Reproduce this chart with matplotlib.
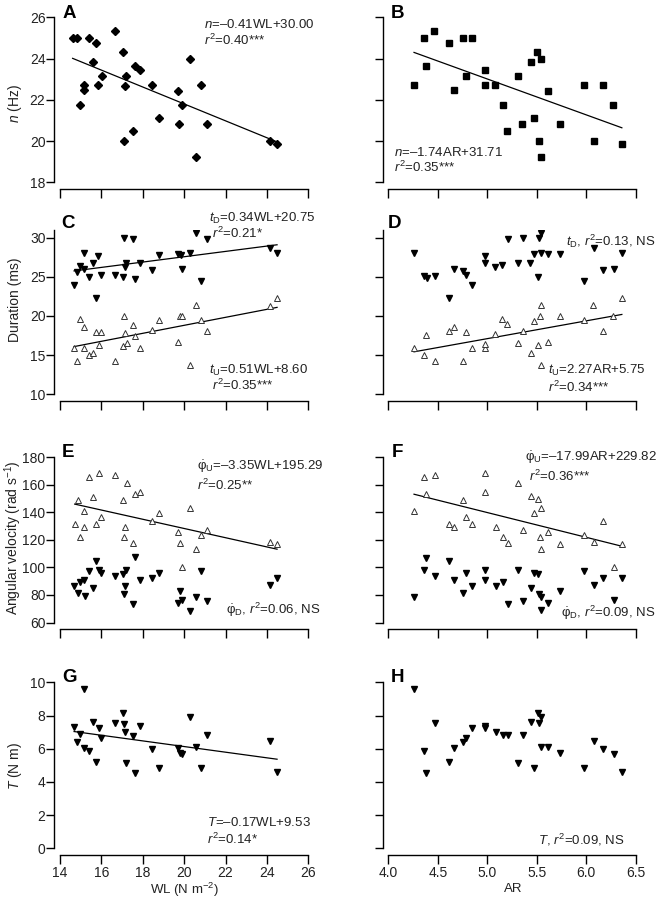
import matplotlib
matplotlib.use("Agg")
import matplotlib.pyplot as plt
import numpy as np

plt.rcParams['font.family'] = ['Liberation Sans', 'DejaVu Sans']
plt.rcParams['mathtext.fontset'] = 'custom'
plt.rcParams['mathtext.rm'] = 'Liberation Sans'
plt.rcParams['mathtext.it'] = 'Liberation Sans:italic'
plt.rcParams['mathtext.bf'] = 'Liberation Sans:bold'

# ---------------- data ----------------
# Panel A: WL vs n
wl_a = [14.61, 14.84, 15.42, 15.72, 16.66, 17.04, 15.58, 17.61, 17.87, 16.01, 17.19, 15.18, 15.85, 17.13,
        18.43, 15.14, 14.97, 19.69, 19.88, 20.30, 20.80, 18.77, 19.77, 21.09, 17.09, 17.51, 20.59, 24.16, 24.49]
n_a = [25.01, 25.0, 25.0, 24.74, 25.34, 24.30, 23.82, 23.66, 23.44, 23.15, 23.16, 22.72, 22.72, 22.69,
       22.72, 22.46, 21.73, 22.45, 21.73, 23.96, 22.72, 21.12, 20.81, 20.81, 20.0, 20.49, 19.24, 20.0, 19.84]

# Panel B: AR vs n
ar_b = [4.26, 4.36, 4.38, 4.46, 4.61, 4.66, 4.75, 4.79, 4.85, 4.98, 4.98, 5.08, 5.16, 5.20, 5.31, 5.35,
        5.44, 5.47, 5.50, 5.54, 5.52, 5.54, 5.61, 5.73, 5.98, 6.08, 6.17, 6.27, 6.36]
n_b = [22.74, 25.01, 23.66, 25.34, 24.76, 22.48, 25.01, 23.16, 25.01, 23.45, 22.74, 22.70, 21.73, 20.51,
       23.16, 20.83, 23.82, 21.12, 24.32, 23.96, 20.0, 19.24, 22.44, 20.83, 22.74, 20.0, 22.74, 21.73, 19.84]

# Panel C: WL vs downstroke (tD) and upstroke (tU) duration
wl_c_d = [14.68, 14.84, 14.97, 15.18, 15.18, 15.42, 15.59, 15.72, 15.85, 16.00, 16.67, 17.08, 17.04, 17.16,
          17.20, 17.54, 17.61, 17.87, 18.43, 18.77, 19.69, 19.85, 19.88, 20.30, 20.59, 20.80, 21.10, 24.16, 24.49]
td_c = [23.96, 25.66, 26.38, 26.0, 28.09, 25.02, 26.72, 22.34, 27.66, 25.19, 25.19, 29.91, 24.94, 26.30,
        26.72, 29.87, 24.68, 26.72, 25.87, 27.83, 27.90, 27.75, 25.96, 28.0, 30.55, 24.51, 29.87, 28.68, 28.09]
wl_c_u = [14.68, 14.84, 14.95, 15.14, 15.18, 15.39, 15.59, 15.72, 15.87, 16.00, 16.67, 17.09, 17.13, 17.04,
          17.22, 17.53, 17.61, 17.88, 18.43, 18.77, 19.69, 19.78, 19.88, 20.30, 20.59, 20.80, 21.10, 24.16, 24.49]
tu_c = [15.96, 14.26, 19.57, 18.64, 15.96, 14.98, 15.23, 18.0, 16.30, 18.0, 14.26, 20.0, 17.79, 16.21,
        16.51, 18.85, 17.49, 15.96, 18.21, 19.49, 16.68, 20.04, 20.0, 13.70, 21.36, 19.49, 18.09, 21.28, 22.30]

# Panel D: AR vs tD and tU
ar_d_d = [4.26, 4.36, 4.39, 4.47, 4.61, 4.66, 4.75, 4.79, 4.85, 4.98, 4.98, 5.08, 5.15, 5.21, 5.31, 5.36,
          5.43, 5.47, 5.51, 5.52, 5.54, 5.54, 5.61, 5.73, 5.98, 6.08, 6.17, 6.28, 6.36]
td_d = [28.09, 25.11, 24.81, 25.15, 22.34, 25.96, 25.74, 25.23, 23.96, 27.66, 26.72, 26.30, 26.47, 29.87,
        26.72, 29.91, 26.72, 27.87, 24.94, 30.0, 30.64, 28.0, 27.87, 27.87, 24.47, 28.64, 25.87, 26.0, 28.09]
ar_d_u = [4.26, 4.36, 4.38, 4.47, 4.61, 4.66, 4.75, 4.79, 4.85, 4.98, 4.98, 5.08, 5.15, 5.20, 5.31, 5.36,
          5.44, 5.47, 5.51, 5.53, 5.54, 5.54, 5.61, 5.74, 5.98, 6.07, 6.17, 6.27, 6.36]
tu_d = [15.87, 14.98, 17.53, 14.30, 18.04, 18.64, 14.30, 18.0, 15.96, 15.96, 16.43, 17.70, 19.57, 18.94,
        16.51, 18.09, 15.23, 19.40, 16.26, 20.04, 21.40, 13.70, 16.68, 20.04, 19.49, 21.40, 18.13, 20.04, 22.30]

# Panel E: WL vs angular velocity (upstroke open, downstroke filled)
wl_e_u = [14.71, 14.85, 14.97, 15.16, 15.18, 15.42, 15.59, 15.72, 15.87, 16.00, 16.67, 17.06, 17.14, 17.11,
          17.22, 17.53, 17.61, 17.87, 18.43, 18.78, 19.69, 19.78, 19.88, 20.30, 20.59, 20.80, 21.10, 24.16, 24.49]
wu_e = [131.9, 148.9, 122.2, 129.5, 141.2, 165.9, 151.4, 131.9, 168.8, 136.8, 166.9, 148.9, 129.3, 122.0,
        161.6, 117.4, 153.3, 155.0, 133.6, 139.5, 125.4, 117.4, 100.4, 143.4, 113.5, 123.7, 127.1, 118.6, 117.1]
wl_e_d = [14.69, 14.87, 14.98, 15.18, 15.19, 15.42, 15.59, 15.72, 15.87, 16.00, 16.67, 17.04, 17.14, 17.11,
          17.20, 17.54, 17.62, 17.87, 18.43, 18.77, 19.69, 19.78, 19.88, 20.30, 20.59, 20.80, 21.10, 24.16, 24.49]
wd_e = [86.8, 81.7, 89.5, 91.2, 79.0, 97.7, 85.0, 105.0, 98.4, 96.0, 93.6, 95.5, 86.6, 80.5,
        98.0, 73.5, 107.4, 90.7, 92.6, 96.0, 74.2, 83.2, 76.7, 68.0, 78.5, 97.5, 75.7, 87.5, 92.1]

# Panel F: AR vs angular velocity
ar_f_u = [4.26, 4.36, 4.38, 4.47, 4.61, 4.66, 4.75, 4.79, 4.85, 4.98, 4.98, 5.09, 5.16, 5.21, 5.31, 5.36,
          5.44, 5.47, 5.51, 5.53, 5.54, 5.54, 5.61, 5.74, 5.98, 6.08, 6.17, 6.28, 6.36]
wu_f = [141.2, 165.9, 153.3, 167.1, 131.9, 129.5, 148.9, 136.8, 131.9, 168.8, 155.0, 129.3, 122.2, 117.4,
        161.6, 127.1, 151.6, 139.8, 149.4, 122.2, 143.4, 113.5, 125.6, 116.9, 123.9, 118.3, 133.6, 100.4, 117.1]
ar_f_d = [4.26, 4.38, 4.36, 4.47, 4.61, 4.66, 4.75, 4.79, 4.85, 4.98, 4.98, 5.09, 5.16, 5.21, 5.31, 5.36,
          5.44, 5.47, 5.51, 5.52, 5.54, 5.54, 5.61, 5.74, 5.98, 6.08, 6.17, 6.28, 6.36]
wd_f = [78.5, 107.2, 98.0, 93.8, 105.0, 91.2, 81.5, 96.0, 86.6, 98.4, 90.7, 86.6, 89.5, 73.5,
        98.4, 75.7, 85.0, 96.0, 95.5, 81.0, 78.5, 69.3, 74.2, 83.2, 97.5, 87.5, 92.6, 76.7, 92.1]

# Panel G: WL vs T
wl_g = [14.68, 14.84, 14.97, 15.18, 15.18, 15.42, 15.59, 15.72, 15.87, 16.00, 16.67, 17.06, 17.11, 17.14,
        17.20, 17.53, 17.61, 17.87, 18.43, 18.77, 19.69, 19.78, 19.88, 20.30, 20.59, 20.80, 21.10, 24.16, 24.49]
t_g = [7.29, 6.43, 6.87, 9.62, 6.06, 5.86, 7.59, 5.20, 7.27, 6.67, 7.53, 8.13, 7.47, 6.99,
       5.12, 6.79, 4.52, 7.39, 5.98, 4.82, 6.06, 5.72, 5.66, 7.93, 6.08, 4.82, 6.81, 6.49, 4.60]

# Panel H: AR vs T
ar_h = [4.26, 4.36, 4.38, 4.47, 4.61, 4.66, 4.75, 4.79, 4.85, 4.98, 4.98, 5.09, 5.16, 5.21, 5.31, 5.36,
        5.44, 5.47, 5.51, 5.52, 5.54, 5.54, 5.61, 5.74, 5.98, 6.08, 6.17, 6.28, 6.36]
t_h = [9.62, 5.86, 4.52, 7.53, 5.20, 6.02, 6.43, 6.67, 7.27, 7.39, 7.27, 6.99, 6.83, 6.81, 5.12, 6.81,
       7.59, 4.82, 8.13, 7.53, 7.93, 6.08, 6.08, 5.72, 4.82, 6.49, 5.98, 5.66, 4.60]

# regression coefficients (slope, intercept) from the figure
fit_a = (-0.41, 30.00)
fit_b = (-1.74, 31.71)
fit_c_d = (0.34, 20.75)
fit_c_u = (0.51, 8.60)
fit_d_u = (2.27, 5.75)
fit_e_u = (-3.35, 195.29)
fit_f_u = (-17.99, 229.82)
fit_g = (-0.17, 9.53)

wl_ticks = [14, 16, 18, 20, 22, 24, 26]
ar_ticks = [4.0, 4.5, 5.0, 5.5, 6.0, 6.5]
ar_ticklabels = ['4.0', '4.5', '5.0', '5.5', '6.0', '6.5']

# ---------------- figure ----------------
W, H = 663, 900
fig = plt.figure(figsize=(W / 100, H / 100), dpi=100)
TXT = '#222222'
TICKFS = 10
ANNFS = 9.5
LABFS = 10

def px_axes(x0, x1, ytop, ybot):
    return fig.add_axes([x0 / W, 1 - ybot / H, (x1 - x0) / W, (ybot - ytop) / H])

LX = (60, 308.3)
RX = (388.3, 635.7)
rows = [(17.3, 182.3), (229.7, 394.3), (457.3, 622.5), (682.3, 848.3)]

def style(ax, xlim, xticks, ylim, yticks, left_labels, bottom_labels, xtl=None):
    ax.set_xlim(*xlim)
    ax.set_ylim(*ylim)
    for s in ['top', 'right']:
        ax.spines[s].set_visible(False)
    ax.spines['left'].set_position(('outward', 4))
    ax.spines['bottom'].set_position(('outward', 4.5))
    ax.spines['left'].set_linewidth(1.0)
    ax.spines['bottom'].set_linewidth(1.0)
    ax.set_xticks(xticks)
    ax.set_yticks(yticks)
    ax.tick_params(axis='x', direction='out', length=6.8, width=1.0, labelsize=TICKFS, labelcolor=TXT, pad=1.2)
    ax.tick_params(axis='y', direction='out', length=5.5, width=1.0, labelsize=TICKFS, labelcolor=TXT, pad=1.0)
    if xtl is not None and bottom_labels:
        ax.set_xticklabels(xtl)
    if not bottom_labels:
        ax.tick_params(axis='x', labelbottom=False)
    if not left_labels:
        ax.tick_params(axis='y', labelleft=False)
    ax.patch.set_visible(False)

def fitline(ax, x, coef):
    xs = np.array([min(x), max(x)])
    ax.plot(xs, coef[0] * xs + coef[1], color='black', lw=0.9, zorder=1)

def ftext(x, y, s, ha='left', **kw):
    fig.text(x / W, 1 - y / H, s, ha=ha, va='center', fontsize=ANNFS, color=TXT, **kw)

def letter(x, y, s):
    fig.text(x / W, 1 - y / H, s, ha='left', va='center', fontsize=13.5, fontweight='bold', color='black')

def ylab(x, y, s):
    fig.text(x / W, 1 - y / H, s, ha='center', va='center', rotation=90, fontsize=LABFS, color=TXT)

def xlab(x, y, s):
    fig.text(x / W, 1 - y / H, s, ha='center', va='center', fontsize=9.5, color=TXT)

filled_v = dict(marker='v', ms=4.8, color='black', ls='none', zorder=3)
open_up = dict(marker='^', ms=4.9, mfc='white', mec='#333333', mew=0.7, ls='none', zorder=3)

# A
axA = px_axes(LX[0], LX[1], *rows[0])
axA.plot(wl_a, n_a, marker='D', ms=4.5, color='black', ls='none', zorder=3)
fitline(axA, wl_a, fit_a)
style(axA, (14, 26), wl_ticks, (18, 26), [18, 20, 22, 24, 26], True, False)

# B
axB = px_axes(RX[0], RX[1], *rows[0])
axB.plot(ar_b, n_b, marker='s', ms=4.2, color='black', ls='none', zorder=3)
fitline(axB, ar_b, fit_b)
style(axB, (4.0, 6.5), ar_ticks, (18, 26), [18, 20, 22, 24, 26], False, False)

# C
axC = px_axes(LX[0], LX[1], *rows[1])
axC.plot(wl_c_d, td_c, **filled_v)
axC.plot(wl_c_u, tu_c, **open_up)
fitline(axC, wl_c_d, fit_c_d)
fitline(axC, wl_c_u, fit_c_u)
style(axC, (14, 26), wl_ticks, (10, 31), [10, 15, 20, 25, 30], True, False)

# D
axD = px_axes(RX[0], RX[1], *rows[1])
axD.plot(ar_d_d, td_d, **filled_v)
axD.plot(ar_d_u, tu_d, **open_up)
fitline(axD, ar_d_u, fit_d_u)
style(axD, (4.0, 6.5), ar_ticks, (10, 31), [10, 15, 20, 25, 30], False, False)

# E
axE = px_axes(LX[0], LX[1], *rows[2])
axE.plot(wl_e_d, wd_e, **filled_v)
axE.plot(wl_e_u, wu_e, **open_up)
fitline(axE, wl_e_u, fit_e_u)
style(axE, (14, 26), wl_ticks, (60, 180), [60, 80, 100, 120, 140, 160, 180], True, False)

# F
axF = px_axes(RX[0], RX[1], *rows[2])
axF.plot(ar_f_d, wd_f, **filled_v)
axF.plot(ar_f_u, wu_f, **open_up)
fitline(axF, ar_f_u, fit_f_u)
style(axF, (4.0, 6.5), ar_ticks, (60, 180), [60, 80, 100, 120, 140, 160, 180], False, False)

# G
axG = px_axes(LX[0], LX[1], *rows[3])
axG.plot(wl_g, t_g, **filled_v)
fitline(axG, wl_g, fit_g)
style(axG, (14, 26), wl_ticks, (0, 10), [0, 2, 4, 6, 8, 10], True, True)

# H
axH = px_axes(RX[0], RX[1], *rows[3])
axH.plot(ar_h, t_h, **filled_v)
style(axH, (4.0, 6.5), ar_ticks, (0, 10), [0, 2, 4, 6, 8, 10], False, True, xtl=ar_ticklabels)

# axis labels
ylab(15, 104, r'$n$ (Hz)')
ylab(15, 300, 'Duration (ms)')
ylab(13, 538, r'Angular velocity (rad s$^{-1}$)')
ylab(15, 766, r'$T$ (N m)')
xlab(184, 890, r'WL (N m$^{-2}$)')
xlab(513, 889, 'AR')

# panel letters
letter(63, 13, 'A')
letter(391, 13, 'B')
letter(61, 223, 'C')
letter(388, 223, 'D')
letter(62, 453, 'E')
letter(392, 453, 'F')
letter(62, 677, 'G')
letter(391, 677, 'H')

PHI = r'\dot{\mathrm{φ}}'
# annotations
ftext(204, 25, r'$n$=–0.41WL+30.00')
ftext(204, 40, r'$r^2$=0.40***')
ftext(394, 152, r'$n$=–1.74AR+31.71')
ftext(394, 167, r'$r^2$=0.35***')
ftext(209, 218, r'$t_{\rm D}$=0.34WL+20.75')
ftext(212, 233, r'$r^2$=0.21*')
ftext(209, 370, r'$t_{\rm U}$=0.51WL+8.60')
ftext(212, 385, r'$r^2$=0.35***')
ftext(655, 241, r'$t_{\rm D}$, $r^2$=0.13, NS', ha='right')
ftext(548, 370, r'$t_{\rm U}$=2.27AR+5.75')
ftext(548, 387, r'$r^2$=0.34***')
ftext(197, 467, r'$' + PHI + r'_{\rm U}$=–3.35WL+195.29')
ftext(197, 485, r'$r^2$=0.25**')
ftext(226, 610, r'$' + PHI + r'_{\rm D}$, $r^2$=0.06, NS')
ftext(525, 458, r'$' + PHI + r'_{\rm U}$=–17.99AR+229.82')
ftext(529, 476, r'$r^2$=0.36***')
ftext(655, 613, r'$' + PHI + r'_{\rm D}$, $r^2$=0.09, NS', ha='right')
ftext(207, 822, r'$T$=–0.17WL+9.53')
ftext(207, 839, r'$r^2$=0.14*')
ftext(538, 840, r'$T$, $r^2$=0.09, NS')

fig.savefig('out.png', dpi=100)
